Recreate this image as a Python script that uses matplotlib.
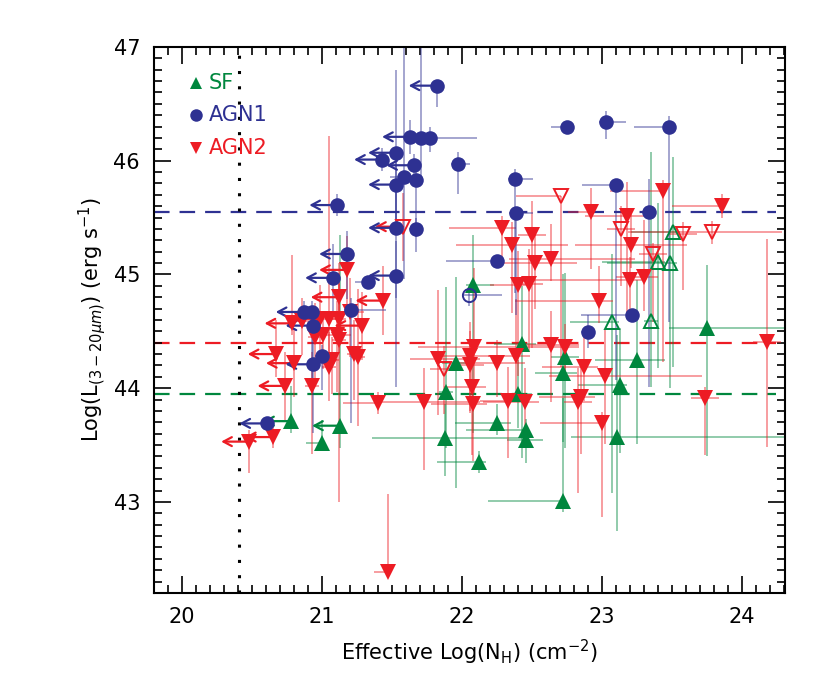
"""Mid-IR luminosity vs effective NH for SF, AGN1 and AGN2 sources."""

import matplotlib

matplotlib.use("Agg")
import matplotlib.pyplot as plt
import numpy as np

GREEN = "#00873e"
BLUE = "#2e3192"
RED = "#ed1c24"

# SF sources
sf_x = [20.78, 21.00, 21.13, 21.88, 21.89, 21.96, 22.08, 22.12, 22.25, 22.46, 22.46, 22.72, 22.43,
        22.40, 22.74, 22.72, 23.11, 23.13, 23.25, 23.75, 23.07, 23.35, 23.40, 23.49, 23.51]
sf_y = [43.71, 43.52, 43.67, 43.56, 43.97, 44.22, 44.91, 43.35, 43.69, 43.63, 43.54, 43.01, 44.39,
        43.95, 44.27, 44.13, 43.57, 44.03, 44.25, 44.53, 44.58, 44.59, 45.11, 45.10, 45.37]
sf_xlo = [0, 0.11, 0, 0.52, 0.05, 0.1, 0.05, 0.3, 0.3, 0.43, 0.14, 0.53, 0.2,
          0.1, 0.1, 0.2, 0.33, 0.3, 0.3, 0.27, 0.3, 0.05, 0.4, 0.45, 0.3]
sf_xhi = [0, 0, 0, 0.6, 0.05, 0.1, 0.15, 0.05, 0.1, 0, 0.12, 0, 0.1,
          0.1, 0.1, 0.1, 1.2, 0.05, 0.2, 0.55, 0.05, 0.05, 0.05, 0.05, 0.05]
sf_ylo = [0.1, 0.05, 0.2, 0.33, 0.5, 1.1, 1.3, 0.1, 0.1, 0.15, 0.2, 0.1, 1.0,
          0.3, 0.8, 0.6, 0.83, 0.6, 0.74, 1.13, 1.5, 0.58, 0.93, 1.1, 1.18]
sf_yhi = [0.31, 0.2, 1.68, 0.3, 0.92, 0.76, 0.44, 0.1, 0.17, 0.1, 0.1, 0.9, 0.51,
          0.3, 0.74, 0.87, 0.9, 0.5, 0.7, 0.55, 0.6, 1.49, 0.52, 0.27, 0.66]
sf_open = [0] * 20 + [1] * 5
sf_lim = [1, 0, 1] + [0] * 22

# AGN1 sources
agn1_x = [21.82, 21.63, 21.71, 21.77, 21.53, 21.43, 21.66, 21.97, 21.59, 21.67, 21.53, 21.11,
          21.53, 21.67, 22.75, 23.03, 23.48, 22.38, 23.10, 22.39, 23.34, 22.25, 21.53, 21.33,
          21.18, 21.08, 20.87, 20.93, 21.21, 20.94, 21.00, 20.94, 20.61, 22.90, 23.22, 22.05]
agn1_y = [46.66, 46.21, 46.20, 46.20, 46.07, 46.01, 45.96, 45.97, 45.86, 45.83, 45.79, 45.61,
          45.41, 45.40, 46.30, 46.34, 46.30, 45.84, 45.79, 45.54, 45.55, 45.12, 44.99, 44.93,
          45.18, 44.97, 44.67, 44.67, 44.69, 44.55, 44.28, 44.21, 43.69, 44.49, 44.64, 44.82]
agn1_xlo = [0, 0, 0.05, 0.05, 0, 0, 0, 0.05, 0.1, 0.05, 0, 0,
            0, 0.05, 0.11, 0.05, 0.25, 0.05, 0.24, 0.05, 0.05, 0.36, 0, 0.09,
            0, 0, 0, 0.05, 0.05, 0, 0.05, 0, 0, 0.05, 0.37, 0.05]
agn1_xhi = [0, 0, 0.05, 0.34, 0, 0, 0, 0.09, 0.05, 0.05, 0, 0,
            0, 0.05, 0, 0.14, 0, 0.13, 0.05, 0.12, 0.05, 0.05, 0, 0.05,
            0, 0, 0, 0.05, 0.25, 0, 0.05, 0, 0, 0.05, 0.05, 0.24]
agn1_ylo = [0.19, 0.15, 0.4, 0.12, 0.6, 0.1, 0.1, 0.26, 0.9, 0.5, 0.3, 0.1,
            1.4, 0.2, 0.05, 0.15, 1.72, 1.0, 1.72, 0.9, 1.54, 0.05, 0.2, 0.05,
            0.4, 0.3, 0.1, 0.6, 1.0, 0.1, 0.3, 0.6, 0.05, 0.14, 0.05, 0.1]
agn1_yhi = [0, 0.15, 0.9, 0.1, 0.73, 0.1, 0.1, 0.11, 1.2, 0.15, 0.2, 0.1,
            0.4, 0.1, 0.05, 0.1, 0.09, 0.09, 0.05, 0.05, 0.29, 0.05, 0.3, 0.05,
            0.2, 0.3, 0.1, 0.1, 0.1, 0.1, 0.1, 0.3, 0.05, 0.15, 0.05, 0.05]
agn1_open = [0] * 35 + [1]
agn1_lim = [1, 1, 0, 0, 1, 1, 1, 0, 0, 0, 1, 1,
            1, 0, 0, 0, 0, 0, 0, 0, 0, 0, 1, 0,
            1, 1, 1, 0, 0, 1, 0, 1, 1, 0, 0, 0]

# AGN2 sources
agn2_x = [23.44, 23.86, 22.92, 23.18, 22.29, 22.50, 23.21, 23.20, 23.30, 22.98, 24.18, 22.87,
          23.02, 23.74, 22.85, 22.08, 22.33, 22.45, 23.00, 22.83, 21.47, 21.40, 21.73, 22.36,
          22.52, 22.64, 22.40, 22.48, 22.64, 22.74, 22.09, 21.83, 22.06, 22.06, 22.25, 22.39,
          22.07, 21.05, 21.12, 20.95, 21.11, 21.05, 21.23, 21.26, 20.93, 21.12, 21.20, 20.86,
          21.01, 21.07, 20.65, 20.48, 21.18, 21.12, 21.44, 20.79, 21.29, 20.67, 20.74, 20.99,
          20.80, 22.71, 23.14, 23.58, 23.79, 23.37, 21.87, 21.58]
agn2_y = [45.73, 45.60, 45.55, 45.51, 45.41, 45.35, 45.26, 44.95, 44.98, 44.77, 44.41, 44.19,
          44.11, 43.91, 43.92, 43.86, 43.89, 43.88, 43.69, 43.88, 42.38, 43.87, 43.88, 45.26,
          45.10, 45.14, 44.91, 44.92, 44.38, 44.36, 44.36, 44.26, 44.28, 44.20, 44.22, 44.28,
          44.01, 44.61, 44.61, 44.45, 44.47, 44.19, 44.30, 44.27, 44.02, 44.42, 44.67, 44.59,
          44.47, 44.25, 43.57, 43.53, 45.04, 44.80, 44.77, 44.57, 44.55, 44.30, 44.02, 44.61,
          44.22, 45.69, 45.40, 45.36, 45.37, 45.18, 44.17, 45.42]
agn2_xlo = [0.38, 0.36, 0.16, 0.3, 0.38, 0.1, 0.4, 0.8, 0.2, 0.6, 0.1, 0.3,
            0.4, 0.1, 0.3, 0.3, 0.2, 0.3, 0.44, 0.1, 0.1, 0.25, 0.3, 0.4,
            0.3, 0.3, 0.2, 0.1, 0.2, 0.3, 0.4, 0.2, 0.2, 0.1, 0.3, 0.2,
            0.2, 0.05, 0.05, 0.05, 0.05, 0.05, 0.05, 0.05, 0.05, 0.05, 0.05, 0.05,
            0.05, 0.05, 0, 0, 0, 0, 0, 0, 0, 0, 0, 0,
            0, 0.32, 0.1, 0.1, 0.6, 0.1, 0.1, 0]
agn2_xhi = [0, 0, 0, 0.2, 0.1, 0.1, 0.4, 0.1, 0.1, 0.1, 0.1, 0.1,
            0.7, 0.1, 0.1, 0.1, 0.1, 0.1, 0, 0.1, 0, 0, 0.4, 0.4,
            0.3, 0.6, 0.1, 0.1, 0.2, 0.1, 0.3, 0.3, 0.2, 0.1, 0.2, 0.1,
            0.1, 0.05, 0.05, 0.05, 0.1, 0.05, 0.05, 0.05, 0.05, 0.05, 0.1, 0.05,
            0.05, 0.05, 0, 0, 0, 0, 0, 0, 0, 0, 0, 0,
            0, 0, 0.1, 0.1, 0.5, 0.1, 0.1, 0]
agn2_ylo = [1.5, 0.1, 0.5, 0.9, 0.3, 1.0, 0.2, 0.3, 0.3, 0.2, 0.93, 0.3,
            0.6, 0.5, 0.5, 0.5, 0.5, 0.4, 0.82, 0.8, 0, 0.1, 0.6, 0.6,
            0.4, 0.2, 0.8, 0.6, 0.5, 0.3, 0.4, 0.5, 0.5, 0.4, 0.3, 0.4,
            0.6, 0.3, 0.3, 0.4, 0.5, 0.3, 0.4, 0.6, 0.6, 1.42, 0.4, 0.3,
            0.3, 0.3, 0.1, 0.28, 0.3, 0.3, 0.3, 0.1, 0.3, 0.2, 0.3, 0.3,
            0.3, 1.5, 0.5, 0.5, 0.1, 0.6, 0.4, 0.3]
agn2_yhi = [0.1, 0.11, 0.21, 0.3, 0.1, 0.3, 0.3, 0.2, 0.5, 0.3, 0.9, 0.3,
            0.4, 0.1, 0.3, 0.2, 0.3, 0.3, 0.1, 0.3, 0.69, 0.1, 0.3, 0.2,
            0.3, 0.3, 0.3, 0.3, 0.3, 0.2, 0.7, 0.6, 0.3, 0.3, 0.2, 0.5,
            0.3, 1.61, 0.4, 0.3, 0.3, 0.3, 0.3, 0.6, 0.3, 0.5, 0.3, 0.2,
            0.2, 0.2, 0.1, 0.1, 0.3, 0.3, 0.3, 0.6, 0.3, 0.3, 0.3, 0.3,
            0.3, 0, 0.2, 0.1, 0.1, 0.1, 0.2, 0.3]
agn2_open = [0] * 61 + [1] * 7
agn2_lim = [0] * 50 + [1] * 11 + [0] * 6 + [1]

# median luminosities and the NH reference line
median_levels = {"SF": 43.95, "AGN1": 45.55, "AGN2": 44.40}
nh_ref = 20.41
arrow_len = 0.2


def draw_class(ax, x, y, xlo, xhi, ylo, yhi, is_open, is_lim, color, marker, size):
    x = np.array(x)
    y = np.array(y)
    ax.errorbar(x, y, xerr=[xlo, xhi], yerr=[ylo, yhi], fmt="none",
                ecolor=color, elinewidth=1.1, alpha=0.55, capsize=0, zorder=2)
    is_open = np.array(is_open, dtype=bool)
    is_lim = np.array(is_lim, dtype=bool)
    for xi, yi in zip(x[is_lim], y[is_lim]):
        ax.annotate("", xy=(xi - arrow_len, yi), xytext=(xi, yi),
                    arrowprops=dict(arrowstyle="->,head_length=0.6,head_width=0.32",
                                    color=color, lw=1.6, shrinkA=0, shrinkB=0),
                    zorder=3)
    ax.plot(x[~is_open], y[~is_open], linestyle="none", marker=marker,
            markersize=size, color=color, markeredgewidth=0, zorder=4)
    ax.plot(x[is_open], y[is_open], linestyle="none", marker=marker,
            markersize=size - 1, markerfacecolor="none", markeredgecolor=color,
            markeredgewidth=1.4, zorder=4)


fig = plt.figure(figsize=(8.3, 6.91), dpi=100)
ax = fig.add_axes([0.1855, 0.142, 0.7603, 0.790])

draw_class(ax, sf_x, sf_y, sf_xlo, sf_xhi, sf_ylo, sf_yhi, sf_open, sf_lim, GREEN, "^", 11.5)
draw_class(ax, agn2_x, agn2_y, agn2_xlo, agn2_xhi, agn2_ylo, agn2_yhi, agn2_open, agn2_lim,
           RED, "v", 11.5)
draw_class(ax, agn1_x, agn1_y, agn1_xlo, agn1_xhi, agn1_ylo, agn1_yhi, agn1_open, agn1_lim,
           BLUE, "o", 10.5)

# dashed median levels
for name, color in [("AGN1", BLUE), ("AGN2", RED), ("SF", GREEN)]:
    ax.axhline(median_levels[name], xmin=0, xmax=0.985, color=color,
               linestyle=(0, (7, 4.5)), linewidth=1.6, zorder=1)
ax.axvline(nh_ref, color="black", linestyle=(0, (1, 4)), linewidth=2.2, zorder=1)

# legend drawn by hand like the original
legend_items = [("SF", GREEN, "^"), ("AGN1", BLUE, "o"), ("AGN2", RED, "v")]
for i, (name, color, marker) in enumerate(legend_items):
    ypos = 0.934 - i * 0.0595
    ax.plot([0.067], [ypos], transform=ax.transAxes, marker=marker, color=color,
            markersize=9, markeredgewidth=0, linestyle="none")
    ax.text(0.087, ypos, name, transform=ax.transAxes, color=color, fontsize=15,
            va="center", ha="left")

ax.set_xlim(19.8, 24.31)
ax.set_ylim(42.2, 47.0)
ax.set_xticks([20, 21, 22, 23, 24])
ax.set_yticks([43, 44, 45, 46, 47])
ax.set_xticks(np.arange(19.8, 24.31, 0.1), minor=True)
ax.set_yticks(np.arange(42.2, 47.0, 0.1), minor=True)
ax.tick_params(which="both", direction="in", top=True, right=True, labelsize=15, width=1.2)
ax.tick_params(which="major", length=12, pad=10)
ax.tick_params(which="minor", length=6)
for spine in ax.spines.values():
    spine.set_linewidth(1.5)

ax.set_xlabel(r"Effective Log(N$_\mathrm{H}$) (cm$^{-2}$)", fontsize=15, labelpad=8)
ax.set_ylabel(r"Log(L$_{(3-20\mu m)}$) (erg s$^{-1}$)", fontsize=15, labelpad=4)

fig.savefig("out.png", dpi=100)
plt.close(fig)
